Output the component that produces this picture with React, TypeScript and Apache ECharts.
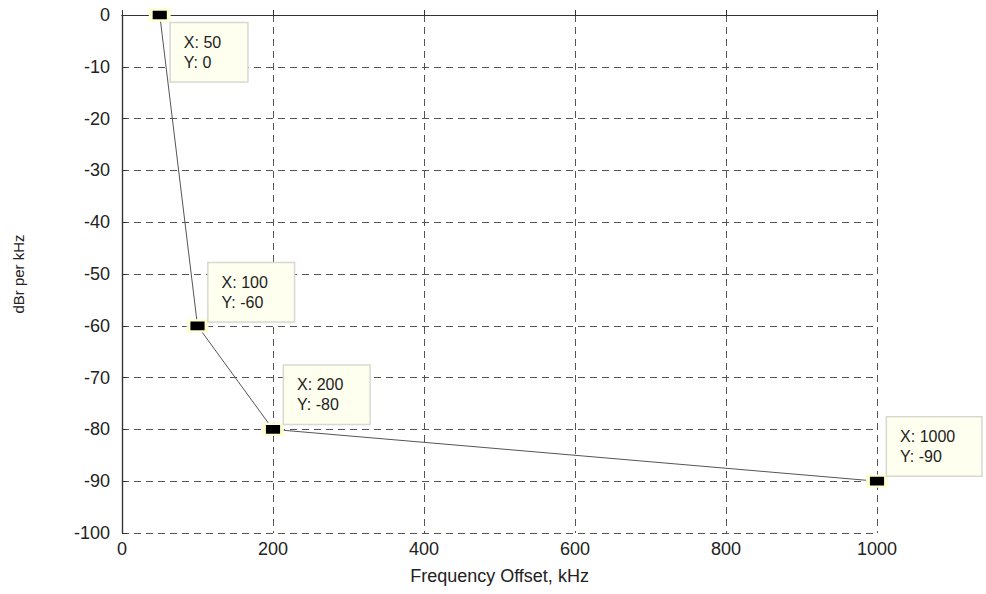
import React, { useEffect, useRef } from "react";
import * as echarts from "echarts";

const xValues = [50, 100, 200, 1000];
const yValues = [0, -60, -80, -90];
const labelOffsets: [number, number][] = [
  [22, 15],
  [22, -56],
  [22, -57],
  [21, -57],
];
const xTicks = { min: 0, max: 1000, interval: 200 };
const yTicks = { min: -100, max: 0, interval: 10 };

export default function App() {
  const ref = useRef<HTMLDivElement>(null);
  useEffect(() => {
    if (!ref.current) return;
    const chart = echarts.init(ref.current, undefined, { renderer: "svg" });
    const font = "'Liberation Sans', Arial, sans-serif";
    const axisColor = "#333";
    const data = xValues.map((x, i) => ({
      value: [x, yValues[i]],
      label: {
        show: true,
        position: labelOffsets[i],
        formatter: `X: ${x}\nY: ${yValues[i]}`,
      },
    }));
    chart.setOption({
      animation: false,
      backgroundColor: "#fff",
      grid: { left: 122, right: 109, top: 15, bottom: 61, containLabel: false },
      xAxis: [
        {
          type: "value",
          min: xTicks.min,
          max: xTicks.max,
          interval: xTicks.interval,
          name: "Frequency Offset, kHz",
          nameLocation: "middle",
          nameGap: 34,
          nameTextStyle: { fontFamily: font, fontSize: 18, color: "#222" },
          axisLine: { show: true, lineStyle: { color: axisColor, width: 1.2 } },
          axisTick: { show: true, inside: true, length: 5, lineStyle: { color: axisColor } },
          axisLabel: {
            fontFamily: font,
            fontSize: 18,
            color: "#222",
            margin: 7,
            formatter: (v: number) => String(v),
          },
          splitLine: {
            show: true,
            lineStyle: { color: "#555", type: [7, 5], width: 1 },
          },
        },
        {
          type: "value",
          position: "top",
          min: xTicks.min,
          max: xTicks.max,
          interval: xTicks.interval,
          axisLine: { show: true, lineStyle: { color: axisColor, width: 1.2 } },
          axisTick: { show: false },
          axisLabel: { show: false },
          splitLine: { show: false },
        },
      ],
      yAxis: [
        {
          type: "value",
          min: yTicks.min,
          max: yTicks.max,
          interval: yTicks.interval,
          name: "dBr per kHz",
          nameLocation: "middle",
          nameGap: 96,
          nameRotate: 90,
          nameTextStyle: { fontFamily: font, fontSize: 15, color: "#222" },
          axisLine: { show: true, lineStyle: { color: axisColor, width: 1.2 } },
          axisTick: { show: true, inside: true, length: 5, lineStyle: { color: axisColor } },
          axisLabel: {
            fontFamily: font,
            fontSize: 18,
            color: "#222",
            margin: 12,
            formatter: (v: number) => String(v),
          },
          splitLine: {
            show: true,
            lineStyle: { color: "#555", type: [7, 5], width: 1 },
          },
        },
        {
          type: "value",
          position: "right",
          min: yTicks.min,
          max: yTicks.max,
          interval: yTicks.interval,
          axisLine: { show: true, lineStyle: { color: axisColor, width: 1.2 } },
          axisTick: { show: false },
          axisLabel: { show: false },
          splitLine: { show: false },
        },
      ],
      series: [
        {
          type: "line",
          data,
          xAxisIndex: 0,
          yAxisIndex: 0,
          clip: false,
          lineStyle: { color: "#555", width: 1 },
          symbol: "rect",
          symbolSize: [18, 11],
          itemStyle: { color: "#000", borderColor: "#ffffd4", borderWidth: 3 },
          z: 5,
          label: {
            show: true,
            align: "left",
            verticalAlign: "top",
            fontFamily: font,
            fontSize: 16,
            lineHeight: 20,
            color: "#222",
            backgroundColor: "#fffff0",
            borderColor: "#d8d8d0",
            borderWidth: 1.5,
            padding: [9, 26, 9, 13],
          },
        },
      ],
    });
    return () => chart.dispose();
  }, []);
  return (
    <div
      ref={ref}
      style={{ position: "absolute", left: 0, top: 0, width: 986, height: 594 }}
    />
  );
}
